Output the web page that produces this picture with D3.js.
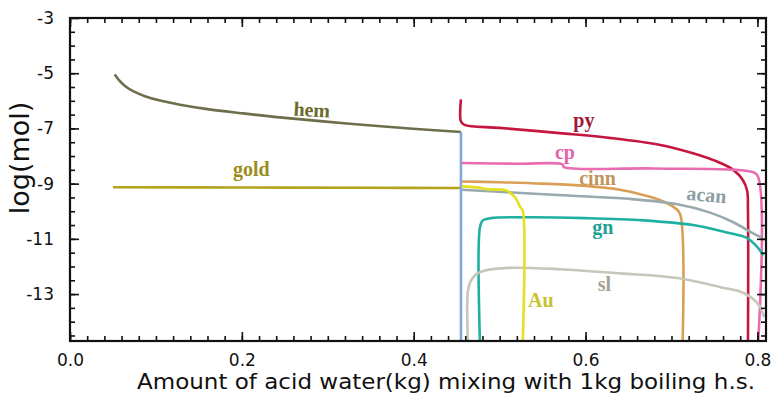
<!DOCTYPE html>
<html>
<head>
<meta charset="utf-8">
<script src="https://cdn.jsdelivr.net/npm/d3@7"></script>
<style>
  html, body { margin: 0; padding: 0; background: #fff; }
  svg { display: block; }
</style>
</head>
<body>
<svg id="chart" width="777" height="396"></svg>
<script>
// Tick labels
const xTickLabels = [0.0, 0.2, 0.4, 0.6, 0.8];
const yTickLabels = [-3, -5, -7, -9, -11, -13];

// Species curves: [acid water (kg), log(mol)]
const hem = [[0.052,-5.05],[0.057,-5.25],[0.064,-5.46],[0.074,-5.66],[0.088,-5.84],[0.106,-6.0],[0.128,-6.14],[0.16,-6.3],[0.2,-6.45],[0.244,-6.6],[0.322,-6.82],[0.399,-7.01],[0.455,-7.13]];
const gold = [[0.05,-9.13],[0.2,-9.14],[0.35,-9.15],[0.455,-9.16]];
const mixLine = [[0.455,-7.13],[0.455,-14.7]];
const py = [[0.455,-5.95],[0.455,-6.75],[0.459,-6.87],[0.5,-6.98],[0.57,-7.17],[0.63,-7.35],[0.687,-7.6],[0.725,-7.9],[0.753,-8.2],[0.772,-8.5],[0.783,-8.87],[0.788,-9.25],[0.789,-10],[0.789,-14.7]];
const cp = [[0.456,-8.25],[0.52,-8.28],[0.573,-8.3],[0.575,-8.4],[0.68,-8.45],[0.79,-8.55],[0.8,-8.7],[0.801,-14.7]];
const cinn = [[0.456,-8.92],[0.5,-8.95],[0.55,-9.0],[0.6,-9.08],[0.64,-9.22],[0.667,-9.41],[0.687,-9.6],[0.704,-9.88],[0.71,-10.1],[0.713,-14.7]];
const acan = [[0.456,-9.22],[0.52,-9.33],[0.58,-9.43],[0.65,-9.55],[0.707,-9.75],[0.745,-10.05],[0.772,-10.4],[0.795,-10.8],[0.805,-10.95]];
const gn = [[0.477,-14.7],[0.477,-10.6],[0.48,-10.35],[0.49,-10.25],[0.53,-10.22],[0.6,-10.25],[0.667,-10.33],[0.725,-10.5],[0.762,-10.75],[0.788,-10.97],[0.8,-11.3],[0.807,-11.6]];
const sl = [[0.463,-14.7],[0.463,-12.9],[0.466,-12.55],[0.472,-12.3],[0.483,-12.15],[0.51,-12.05],[0.57,-12.1],[0.64,-12.25],[0.707,-12.42],[0.757,-12.75],[0.784,-12.96],[0.8,-13.33],[0.808,-13.83]];
const au = [[0.456,-9.1],[0.477,-9.15],[0.485,-9.2],[0.508,-9.25],[0.518,-9.5],[0.524,-9.85],[0.527,-10.0],[0.527,-14.7]];

const series = [
  { name: "hem",  data: hem,  color: "#6e6e4a" },
  { name: "gold", data: gold, color: "#b3a31e" },
  { name: "mix",  data: mixLine, color: "#82a6de" },
  { name: "py",   data: py,   color: "#c4163e" },
  { name: "cp",   data: cp,   color: "#ea6cb0" },
  { name: "cinn", data: cinn, color: "#d9a055" },
  { name: "acan", data: acan, color: "#98aaae" },
  { name: "gn",   data: gn,   color: "#1fb0a2" },
  { name: "sl",   data: sl,   color: "#c6c6ba" },
  { name: "Au",   data: au,   color: "#e6e020" }
];

// Curve labels: text, anchor point in data units, rotation, colour
const labels = [
  { text: "hem",  x: 0.281, y: -6.57, rot: 3,  color: "#6b6b2c" },
  { text: "gold", x: 0.211, y: -8.74, rot: 0,  color: "#9c8c1c" },
  { text: "py",   x: 0.598, y: -6.95, rot: 0,  color: "#a3163a" },
  { text: "cp",   x: 0.576, y: -8.1,  rot: 0,  color: "#e462aa" },
  { text: "cinn", x: 0.614, y: -9.04, rot: 0,  color: "#c09660" },
  { text: "acan", x: 0.740, y: -9.65, rot: 5,  color: "#8c9ea2" },
  { text: "gn",   x: 0.620, y: -10.83, rot: 0, color: "#1ea292" },
  { text: "sl",   x: 0.622, y: -12.9, rot: 0,  color: "#a2a292" },
  { text: "Au",   x: 0.548, y: -13.47, rot: 0, color: "#c8c22e" }
];

const svg = d3.select("#chart");
const margin = { left: 70, right: 11, top: 18, bottom: 55 };
const W = 777, H = 396;

const x = d3.scaleLinear().domain([0, 0.81]).range([margin.left, W - margin.right]);
const y = d3.scaleLinear().domain([-14.7, -3]).range([H - margin.bottom, margin.top]);

svg.append("defs").append("clipPath").attr("id", "plotClip")
  .append("rect")
  .attr("x", x(0)).attr("y", y(-3))
  .attr("width", x(0.81) - x(0)).attr("height", y(-14.7) - y(-3));

const line = d3.line()
  .x(d => x(d[0])).y(d => y(d[1]))
  .curve(d3.curveCatmullRom.alpha(0.5));

const plot = svg.append("g").attr("clip-path", "url(#plotClip)");
plot.selectAll("path.curve")
  .data(series)
  .join("path")
  .attr("class", "curve")
  .attr("d", d => line(d.data))
  .attr("fill", "none")
  .attr("stroke", d => d.color)
  .attr("stroke-width", 2.6)
  .attr("stroke-linejoin", "round");

// Axes with inward ticks on all four sides
const xMinor = d3.range(0, 0.81, 0.02).map(v => +v.toFixed(2));
const yMinor = d3.range(-14.5, -3, 0.5);

function styleAxis(g) {
  g.select(".domain").remove();
  g.selectAll(".tick line").attr("stroke", "#111").attr("stroke-width", 1.6);
}
function styleText(g) {
  g.selectAll("text").attr("font-family", "DejaVu Sans").attr("font-size", 17).attr("fill", "#111");
}

const xb = y(-14.7), yt = y(-3), xl = x(0), xr = x(0.81);

svg.append("g").attr("transform", `translate(0,${xb})`)
  .call(d3.axisBottom(x).tickValues(xMinor).tickSize(-5).tickFormat(""))
  .call(styleAxis);
svg.append("g").attr("transform", `translate(0,${xb})`)
  .call(d3.axisBottom(x).tickValues(xTickLabels).tickSize(-9).tickPadding(13).tickFormat(d => d.toFixed(1)))
  .call(styleAxis).call(styleText);
svg.append("g").attr("transform", `translate(0,${yt})`)
  .call(d3.axisTop(x).tickValues(xMinor).tickSize(-5).tickFormat(""))
  .call(styleAxis);
svg.append("g").attr("transform", `translate(0,${yt})`)
  .call(d3.axisTop(x).tickValues(xTickLabels).tickSize(-9).tickFormat(""))
  .call(styleAxis);

svg.append("g").attr("transform", `translate(${xl},0)`)
  .call(d3.axisLeft(y).tickValues(yMinor).tickSize(-5).tickFormat(""))
  .call(styleAxis);
svg.append("g").attr("transform", `translate(${xl},0)`)
  .call(d3.axisLeft(y).tickValues(yTickLabels).tickSize(-9).tickPadding(16).tickFormat(d => String(d)))
  .call(styleAxis).call(styleText);
svg.append("g").attr("transform", `translate(${xr},0)`)
  .call(d3.axisRight(y).tickValues(yMinor).tickSize(-5).tickFormat(""))
  .call(styleAxis);
svg.append("g").attr("transform", `translate(${xr},0)`)
  .call(d3.axisRight(y).tickValues(yTickLabels).tickSize(-9).tickFormat(""))
  .call(styleAxis);

// Frame
svg.append("rect")
  .attr("x", xl).attr("y", yt)
  .attr("width", xr - xl).attr("height", xb - yt)
  .attr("fill", "none").attr("stroke", "#111").attr("stroke-width", 2.2);

// Curve labels
svg.selectAll("text.lbl")
  .data(labels)
  .join("text")
  .attr("class", "lbl")
  .attr("transform", d => `translate(${x(d.x)},${y(d.y)}) rotate(${d.rot})`)
  .attr("text-anchor", "middle")
  .attr("font-family", "Liberation Serif")
  .attr("font-weight", "bold")
  .attr("font-size", 20)
  .attr("fill", d => d.color)
  .text(d => d.text);

// Axis titles
svg.append("text")
  .attr("x", 446).attr("y", 389)
  .attr("text-anchor", "middle")
  .attr("font-family", "DejaVu Sans")
  .attr("font-size", 21.5)
  .attr("textLength", 618)
  .attr("lengthAdjust", "spacingAndGlyphs")
  .attr("fill", "#111")
  .text("Amount of acid water(kg) mixing with 1kg boiling h.s.");

svg.append("text")
  .attr("transform", `translate(29,158) rotate(-90)`)
  .attr("text-anchor", "middle")
  .attr("font-family", "DejaVu Sans")
  .attr("font-size", 27)
  .attr("fill", "#111")
  .text("log(mol)");
</script>
</body>
</html>
